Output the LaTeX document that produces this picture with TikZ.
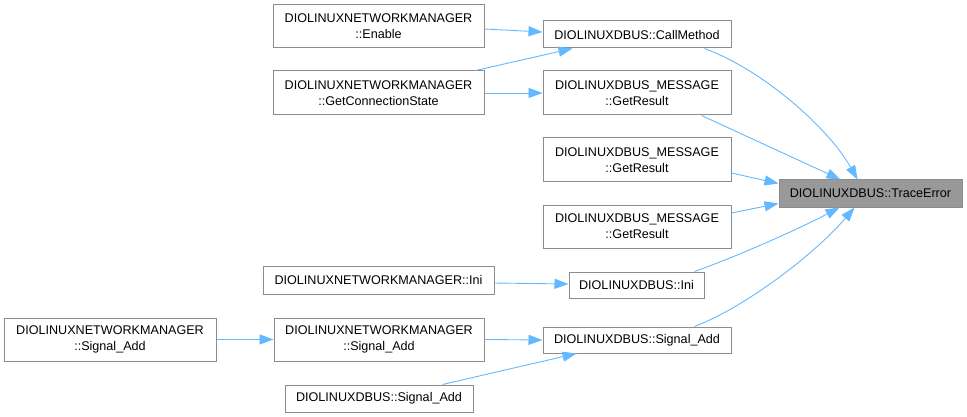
\documentclass[tikz,border=0pt]{standalone}
\usepackage{fontspec}
\setmainfont{Liberation Sans}
\usetikzlibrary{arrows.meta}
\definecolor{edgeblue}{HTML}{63B8FF}
\definecolor{boxgray}{HTML}{8C8C8C}
\definecolor{fillgray}{HTML}{999999}
\tikzset{
  fn/.style={draw=boxgray, line width=1pt, fill=white, inner sep=0pt, align=center,
    font=\fontsize{12.6}{16}\selectfont},
  hl/.style={fn, fill=fillgray},
  call/.style={draw=edgeblue, line width=0.9pt, -{Triangle[length=14pt,width=10pt]}},
}
\begin{document}
\begin{tikzpicture}[x=1pt,y=-1pt]
\useasboundingbox (0,0) rectangle (967,417);
\node[fn, minimum width=211pt, minimum height=43pt] (en) at (378.5,26.5) {DIOLINUXNETWORKMANAGER\\::Enable};
\node[fn, minimum width=211pt, minimum height=44pt] (gcs) at (378.5,93) {DIOLINUXNETWORKMANAGER\\::GetConnectionState};
\node[fn, minimum width=188pt, minimum height=27pt] (cm) at (637,34.5) {DIOLINUXDBUS::CallMethod};
\node[fn, minimum width=188pt, minimum height=44pt] (gr1) at (637,93) {DIOLINUXDBUS\_MESSAGE\\::GetResult};
\node[fn, minimum width=188pt, minimum height=44pt] (gr2) at (637,160) {DIOLINUXDBUS\_MESSAGE\\::GetResult};
\node[fn, minimum width=188pt, minimum height=43pt] (gr3) at (637,226.5) {DIOLINUXDBUS\_MESSAGE\\::GetResult};
\node[hl, minimum width=183pt, minimum height=27pt] (te) at (870.5,193.5) {DIOLINUXDBUS::TraceError};
\node[fn, minimum width=231pt, minimum height=28pt] (nmini) at (378.5,280) {DIOLINUXNETWORKMANAGER::Ini};
\node[fn, minimum width=135pt, minimum height=26pt] (dini) at (636.5,285) {DIOLINUXDBUS::Ini};
\node[fn, minimum width=212pt, minimum height=43pt] (nsl) at (110,339.5) {DIOLINUXNETWORKMANAGER\\::Signal\_Add};
\node[fn, minimum width=210pt, minimum height=43pt] (nsm) at (379,339.5) {DIOLINUXNETWORKMANAGER\\::Signal\_Add};
\node[fn, minimum width=188pt, minimum height=26pt] (dsa) at (637,340) {DIOLINUXDBUS::Signal\_Add};
\node[fn, minimum width=188pt, minimum height=27pt] (dsb) at (379,398.5) {DIOLINUXDBUS::Signal\_Add};

\draw[call] ([yshift=-2.5pt]en.east) -- ([yshift=2.5pt]cm.west);
\draw[call] ([xshift=203pt]gcs.north west) -- ([xshift=30pt]cm.south west);
\draw[call] (gcs.east) -- (gr1.west);
\draw[call] ([xshift=162pt]cm.south west) .. controls +(60,22) and +(-28,-50) .. ([xshift=79pt]te.north west);
\draw[call] ([xshift=159pt]gr1.south west) -- ([xshift=62pt]te.north west);
\draw[call] ([yshift=-13pt]gr2.east) -- ([yshift=-4pt]te.north west);
\draw[call] ([yshift=13.5pt]gr3.east) -- ([yshift=4pt]te.south west);
\draw[call] ([xshift=126pt]dini.north west) .. controls +(45,-16) and +(-40,21) .. ([xshift=61pt]te.south west);
\draw[call] ([xshift=152pt]dsa.north west) .. controls +(50,-19) and +(-40,47) .. ([xshift=76pt]te.south west);
\draw[call] ([yshift=-3pt]nmini.east) -- ([yshift=1pt]dini.west);
\draw[call] (nsl.east) -- (nsm.west);
\draw[call] (nsm.east) -- (dsa.west);
\draw[call] ([xshift=158pt]dsb.north west) -- ([xshift=34pt]dsa.south west);
\end{tikzpicture}
\end{document}
